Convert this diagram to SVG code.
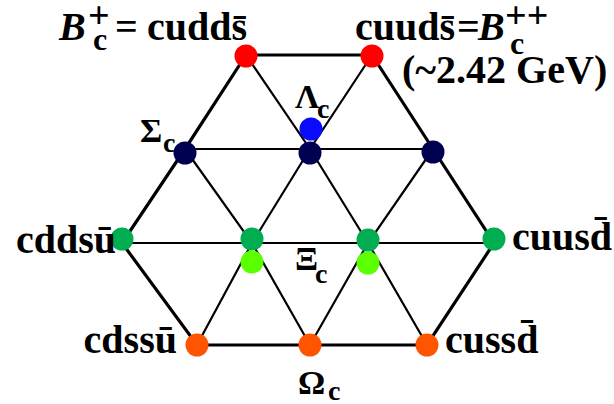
<svg xmlns="http://www.w3.org/2000/svg" width="614" height="404" viewBox="0 0 614 404">
<style>
.t{font-family:"Liberation Serif","Times New Roman",serif;font-weight:bold;font-size:40px;fill:#000}
.g{font-size:34px}
.sub{font-size:28px}
.bsub{font-size:32px}
.sup{font-size:38px}
.it{font-style:italic}
.outer{fill:none;stroke:#000;stroke-width:3.2;stroke-linejoin:miter}
.inner{fill:none;stroke:#000;stroke-width:2.2}
.red{fill:#FF0000}.navy{fill:#000050}.blue{fill:#0A0AFF}.green{fill:#00AD50}.lgreen{fill:#5AFF00}.orange{fill:#FF5500}
</style>
<rect width="614" height="404" fill="#fff"/>
<g id="connectors">
<polygon class="outer" points="246,55 372,55 433,149 494,243 427,345 197,345 122,243 185,149"/>
<line class="inner" x1="185" y1="149" x2="433" y2="149"/>
<line class="inner" x1="122" y1="243" x2="494" y2="243"/>
<polyline class="inner" points="246,55 310,149 368,243 427,345"/>
<polyline class="inner" points="372,55 310,149 252,243 197,345"/>
<polyline class="inner" points="185,149 252,243 310,345"/>
<polyline class="inner" points="433,149 368,243 310,345"/>
</g>
<g id="node-bc-plus">
<circle class="red" cx="246" cy="56" r="11.5"/>
<text class="t"><tspan class="it" x="59" y="40">B</tspan><tspan class="sup" x="88" y="28">+</tspan><tspan class="bsub" x="93" y="50">c</tspan><tspan x="115" y="40">=</tspan><tspan x="147" y="40">cudds&#x0304;</tspan></text>
</g>
<g id="node-bc-plusplus">
<circle class="red" cx="372" cy="56" r="11.5"/>
<text class="t"><tspan x="355" y="40">cuuds&#x0304;</tspan><tspan x="457" y="40">=</tspan><tspan class="it" x="478" y="40">B</tspan><tspan class="sup" x="505" y="28">++</tspan><tspan class="bsub" x="510" y="54">c</tspan></text>
<text class="t" x="402" y="83">(~2.42 GeV)</text>
</g>
<g id="node-lambda-c">
<circle class="blue" cx="311" cy="129" r="11.5"/>
<text class="t"><tspan class="g" x="295" y="108">Λ</tspan><tspan class="sub" x="317" y="118">c</tspan></text>
</g>
<g id="node-sigma-c-left">
<circle class="navy" cx="185" cy="153" r="11.5"/>
<text class="t"><tspan class="g" x="140" y="142">Σ</tspan><tspan class="sub" x="163" y="152">c</tspan></text>
</g>
<g id="node-sigma-c-mid">
<circle class="navy" cx="310" cy="153" r="11.5"/>
</g>
<g id="node-sigma-c-right">
<circle class="navy" cx="433" cy="152" r="11.5"/>
</g>
<g id="node-cddsu">
<circle class="green" cx="122" cy="239" r="11.5"/>
<text class="t" x="116" y="253" text-anchor="end">cddsu&#x0304;</text>
</g>
<g id="node-xi-left">
<circle class="green" cx="252" cy="239" r="11.5"/>
<circle class="lgreen" cx="252" cy="262" r="11.5"/>
</g>
<g id="node-xi-right">
<circle class="green" cx="368" cy="240" r="11.5"/>
<circle class="lgreen" cx="368" cy="263" r="11.5"/>
<text class="t"><tspan class="g" x="295" y="270">Ξ</tspan><tspan class="sub" x="315" y="283">c</tspan></text>
</g>
<g id="node-cuusd">
<circle class="green" cx="494" cy="239" r="11.5"/>
<text class="t" x="512" y="250">cuusd&#x0304;</text>
</g>
<g id="node-cdssu">
<circle class="orange" cx="197" cy="345" r="11.5"/>
<text class="t" x="177" y="353" text-anchor="end">cdssu&#x0304;</text>
</g>
<g id="node-omega-c">
<circle class="orange" cx="310" cy="345" r="11.5"/>
<text class="t"><tspan class="g" x="298" y="394">Ω</tspan><tspan class="sub" x="328" y="400">c</tspan></text>
</g>
<g id="node-cussd">
<circle class="orange" cx="427" cy="345" r="11.5"/>
<text class="t" x="445" y="353">cussd&#x0304;</text>
</g>
</svg>
